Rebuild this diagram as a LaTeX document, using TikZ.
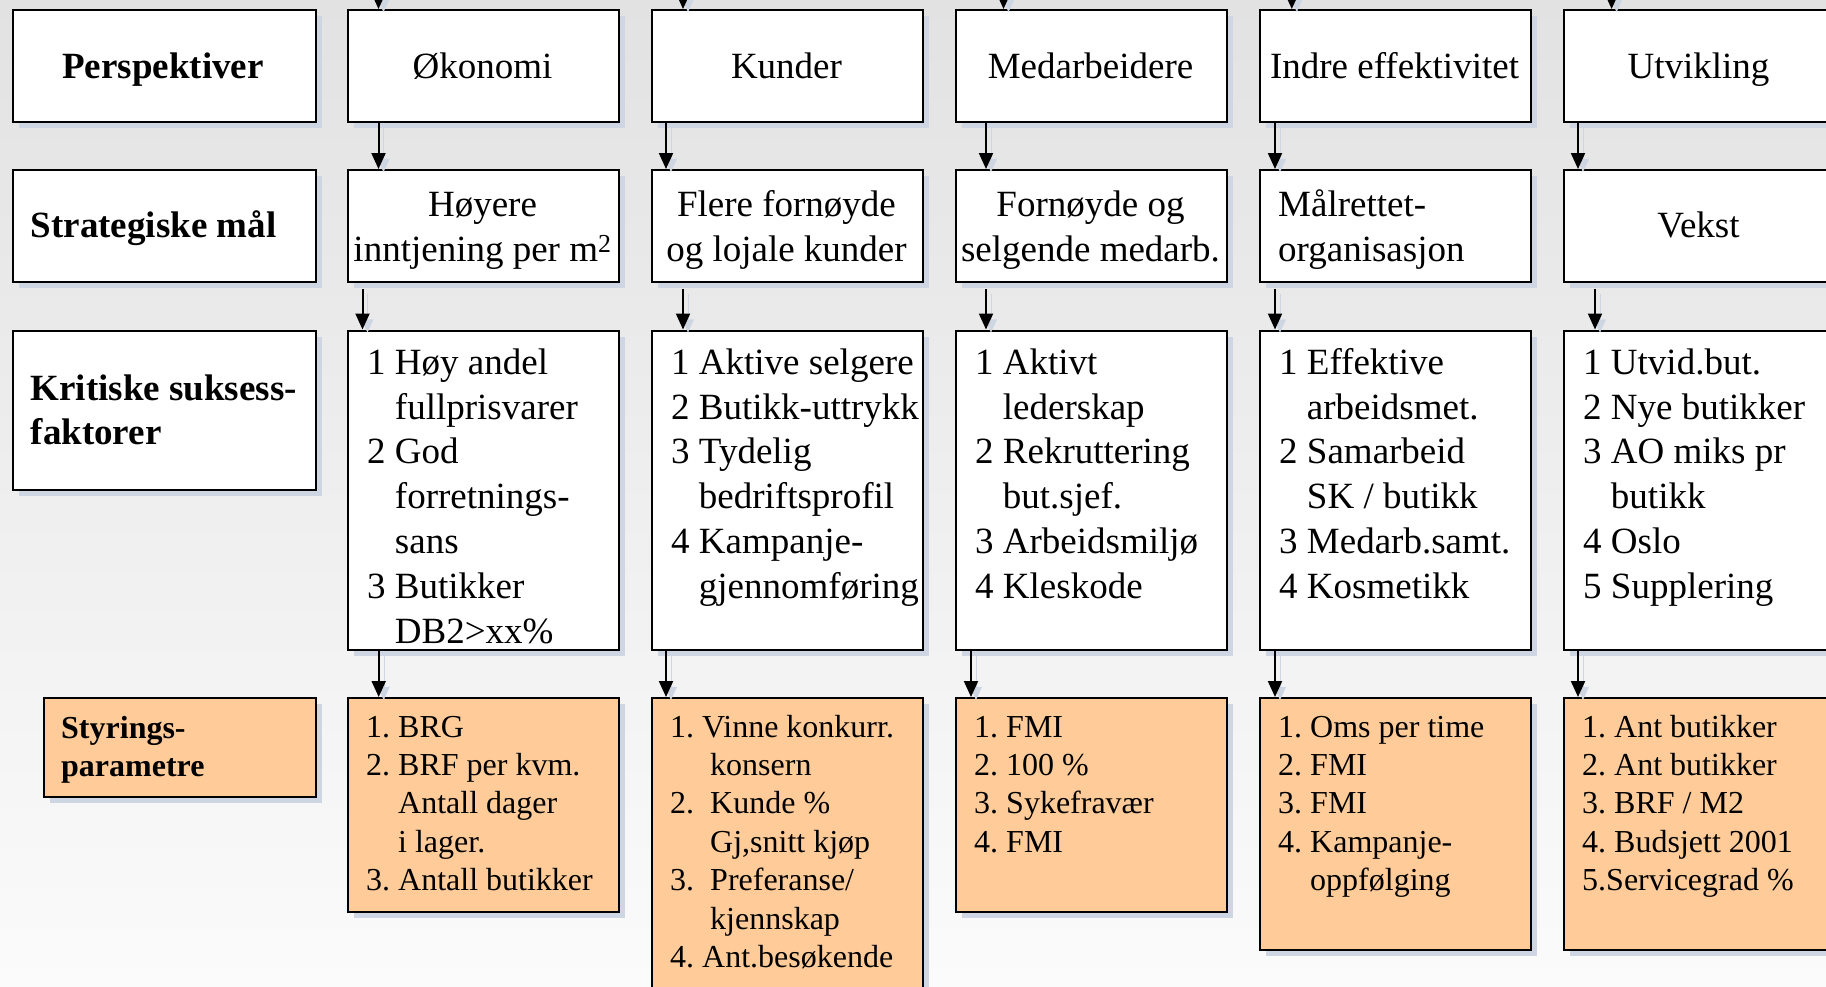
\documentclass[tikz,border=0pt]{standalone}
\usepackage{fontspec}
\setmainfont{Liberation Serif}
\usetikzlibrary{arrows.meta,shadows}
\definecolor{orangefill}{RGB}{255,204,153}
\definecolor{shadowc}{RGB}{205,214,226}
\definecolor{bgtop}{RGB}{226,226,226}
\definecolor{bgbot}{RGB}{251,251,251}
\frenchspacing
\newcommand\fntA{\fontsize{37pt}{44.8pt}\selectfont}
\newcommand\fntB{\fontsize{32pt}{38.4pt}\selectfont}
\newcommand\indA{\hphantom{1 }}
\newcommand\indB{\hphantom{1. }}
\newcommand\indC{\hphantom{1.\ \ }}
\newcommand\lstbox[1]{\parbox[t]{300pt}{\frenchspacing\raggedright #1}}
\newcommand\ctrbox[1]{\parbox[t]{290pt}{\frenchspacing\centering #1}}
\tikzset{
  box/.style={draw=black, line width=2.2pt, fill=white, anchor=north west, inner sep=0pt,
    general shadow={fill=shadowc, shadow xshift=6pt, shadow yshift=-6pt}},
  obox/.style={box, fill=orangefill},
  txt/.style={inner sep=0pt, anchor=base west},
  ctxt/.style={inner sep=0pt, anchor=base},
  arr/.style={-{Triangle[width=14pt,length=16pt]}, line width=2pt, black,
    preaction={draw=shadowc, transform canvas={xshift=5pt,yshift=-5pt}}}
}
\begin{document}
\begin{tikzpicture}[x=1pt,y=-1pt]
\useasboundingbox (0,0) rectangle (1826,986);
\clip (0,0) rectangle (1826,986);
\shade[top color=bgtop,bottom color=bgbot] (0,0) rectangle (1826,986);

% ---------- boxes ----------
\node[box,minimum width=303pt,minimum height=112pt] (p0) at (11.6,9) {};
\node[box,minimum width=303pt,minimum height=112pt] (s0) at (11.6,169) {};
\node[box,minimum width=303pt,minimum height=159pt] (k0) at (11.6,329.5) {};
\node[obox,minimum width=271.5pt,minimum height=99pt] (y0) at (43,697) {};
\foreach \i in {1,...,5}{
  \node[box,minimum width=271pt,minimum height=112pt] (p\i) at ({43+304*\i},9) {};
  \node[box,minimum width=271pt,minimum height=112pt] (s\i) at ({43+304*\i},169) {};
  \node[box,minimum width=271pt,minimum height=319.5pt] (k\i) at ({43+304*\i},329.5) {};
}
\node[obox,minimum width=271pt,minimum height=213.5pt] (y1) at (347,697) {};
\node[obox,minimum width=271pt,minimum height=330pt] (y2) at (651,697) {};
\node[obox,minimum width=271pt,minimum height=213.5pt] (y3) at (955,697) {};
\node[obox,minimum width=271pt,minimum height=252pt] (y4) at (1259,697) {};
\node[obox,minimum width=271pt,minimum height=252pt] (y5) at (1563,697) {};

% ---------- arrows ----------
\foreach \i/\o in {1/31.5,2/32,3/48.5,4/32.8,5/48.6}{
  \coordinate (top\i) at ([xshift=\o pt,yshift=40pt]p\i.north west);
  \draw[arr] (top\i) -- ([xshift=\o pt]p\i.north west);
}
\foreach \i/\o in {1/31.5,2/15,3/31,4/16,5/15}{
  \draw[arr] ([xshift=\o pt]p\i.south west) -- ([xshift=\o pt]s\i.north west);
}
\foreach \i/\o in {1/15.5,2/32,3/31,4/16,5/32}{
  \draw[arr] ([xshift=\o pt,yshift=-6pt]s\i.south west) -- ([xshift=\o pt]k\i.north west);
}
\foreach \i/\o in {1/31.7,2/15,3/16,4/16,5/15}{
  \draw[arr] ([xshift=\o pt]k\i.south west) -- ([xshift=\o pt]y\i.north west);
}

% ---------- row 1 ----------
\node[ctxt,font=\fntA\bfseries] (tp0) at (163,78.7) {Perspektiver};
\node[ctxt,font=\fntA] (tp1) at (482.5,78.7) {Økonomi};
\node[ctxt,font=\fntA] (tp2) at (786.5,78.7) {Kunder};
\node[ctxt,font=\fntA] (tp3) at (1090.5,78.7) {Medarbeidere};
\node[ctxt,font=\fntA] (tp4) at (1394.5,78.7) {Indre effektivitet};
\node[ctxt,font=\fntA] (tp5) at (1698.5,78.7) {Utvikling};

% ---------- row 2 ----------
\node[txt,font=\fntA\bfseries] (ts0) at (30.5,237.7) {Strategiske mål};
\node[ctxt] (ts1) at (482.5,216.7) {\ctrbox{\fntA Høyere\\inntjening per m\textsuperscript{2}}};
\node[ctxt] (ts2) at (786.5,216.7) {\ctrbox{\fntA Flere fornøyde\\og lojale kunder}};
\node[ctxt] (ts3) at (1090.5,216.7) {\ctrbox{\fntA Fornøyde og\\selgende medarb.}};
\node[txt] (ts4) at (1278,216.7) {\lstbox{\fntA Målrettet-\\organisasjon}};
\node[ctxt,font=\fntA] (ts5) at (1698.5,237.7) {Vekst};

% ---------- row 3 ----------
\node[txt] (tk0) at (30.5,400) {\lstbox{\fntA\bfseries Kritiske suksess-\\faktorer}};
\node[txt] (tk1) at (367,374.3) {\lstbox{\fntA 1 Høy andel\\\indA fullprisvarer\\2 God\\\indA forretnings-\\\indA sans\\3 Butikker\\\indA DB2>xx\%}};
\node[txt] (tk2) at (671,374.3) {\lstbox{\fntA 1 Aktive selgere\\2 Butikk-uttrykk\\3 Tydelig\\\indA bedriftsprofil\\4 Kampanje-\\\indA gjennomføring}};
\node[txt] (tk3) at (975,374.3) {\lstbox{\fntA 1 Aktivt\\\indA lederskap\\2 Rekruttering\\\indA but.sjef.\\3 Arbeidsmiljø\\4 Kleskode}};
\node[txt] (tk4) at (1279,374.3) {\lstbox{\fntA 1 Effektive\\\indA arbeidsmet.\\2 Samarbeid\\\indA SK / butikk\\3 Medarb.samt.\\4 Kosmetikk}};
\node[txt] (tk5) at (1583,374.3) {\lstbox{\fntA 1 Utvid.but.\\2 Nye butikker\\3 AO miks pr\\\indA butikk\\4 Oslo\\5 Supplering}};

% ---------- row 4 ----------
\node[txt] (ty0) at (61,738) {\lstbox{\fntB\bfseries Styrings-\\parametre}};
\node[txt] (ty1) at (366,737) {\lstbox{\fntB 1. BRG\\2. BRF per kvm.\\\indB Antall dager\\\indB i lager.\\3. Antall butikker}};
\node[txt] (ty2) at (670,737) {\lstbox{\fntB 1. Vinne konkurr.\\\indC konsern\\2.\ \ Kunde \%\\\indC Gj,snitt kjøp\\3.\ \ Preferanse/\\\indC kjennskap\\4. Ant.besøkende}};
\node[txt] (ty3) at (974,737) {\lstbox{\fntB 1. FMI\\2. 100 \%\\3. Sykefravær\\4. FMI}};
\node[txt] (ty4) at (1278,737) {\lstbox{\fntB 1. Oms per time\\2. FMI\\3. FMI\\4. Kampanje-\\\indB oppfølging}};
\node[txt] (ty5) at (1582,737) {\lstbox{\fntB 1. Ant butikker\\2. Ant butikker\\3. BRF / M2\\4. Budsjett 2001\\5.Servicegrad \%}};
\end{tikzpicture}
\end{document}
